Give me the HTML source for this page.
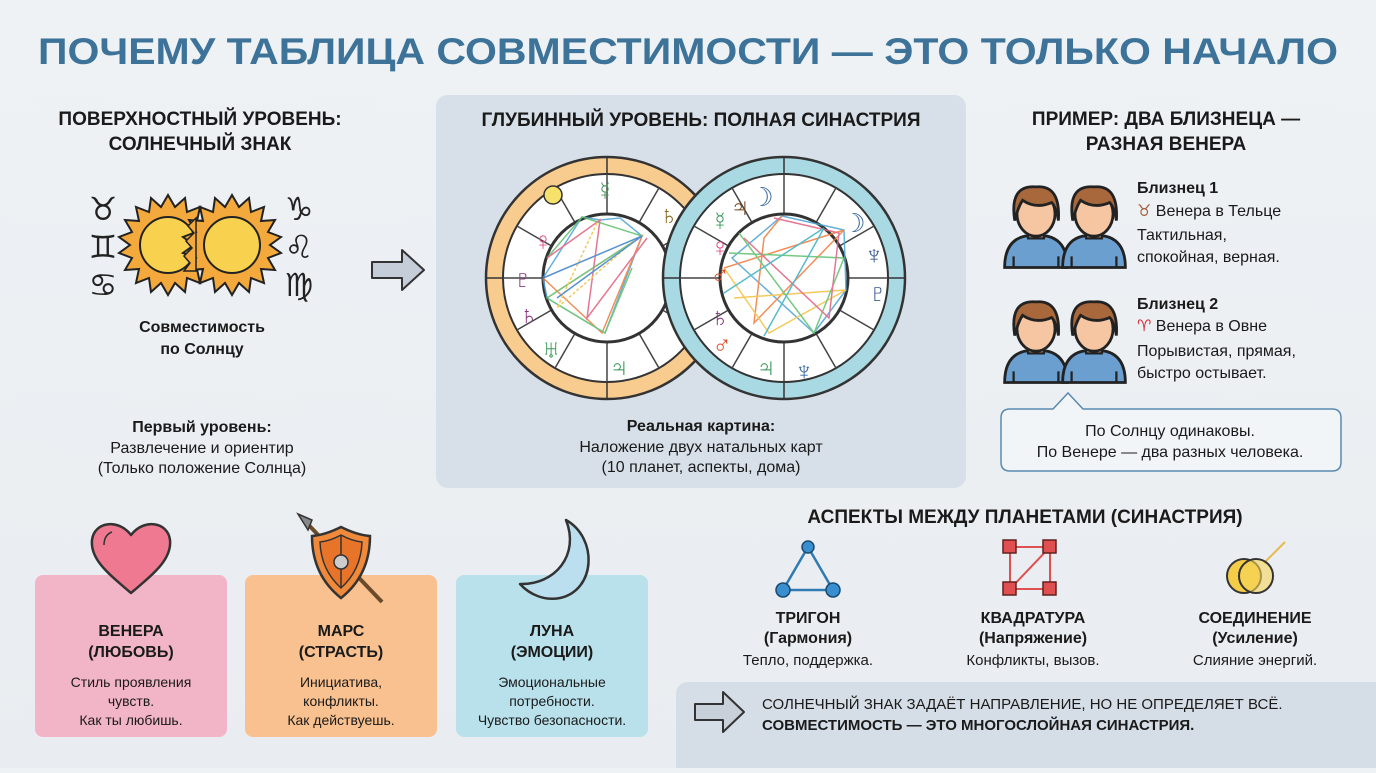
<!DOCTYPE html>
<html><head><meta charset="utf-8"><style>
html,body{margin:0;padding:0}
body{width:1376px;height:768px;overflow:hidden;background:linear-gradient(180deg,#eef2f5,#e9edf1);font-family:"Liberation Sans","Noto Sans CJK SC",sans-serif}
svg text{font-family:"Liberation Sans","DejaVu Sans",sans-serif}
</style></head><body>
<svg width="1376" height="768" viewBox="0 0 1376 768" xmlns="http://www.w3.org/2000/svg">
<defs>
<g id="person">
 <path d="M-28,46 Q-28,22 -10,18 L10,18 Q28,22 28,46 Z" fill="#6a9fd0" stroke="#222" stroke-width="2.5"/>
 <path d="M-20,46 v-10 M20,46 v-10" stroke="#222" stroke-width="2"/>
 <path d="M-7,10 v10 h14 v-10" fill="#f4c39e" stroke="#222" stroke-width="2"/>
 <ellipse cx="0" cy="-2" rx="17" ry="20" fill="#f6c6a2" stroke="#222" stroke-width="2.5"/>
 <path d="M-19,4 Q-24,-28 0,-26 Q22,-28 20,4 Q18,-8 14,-12 Q0,-6 -12,-14 Q-16,-8 -19,4 Z" fill="#a8683c" stroke="#222" stroke-width="2.5"/>
</g>
<g id="sun">
 <polygon points="0,-50 7,-38 17,-47 19,-33 32,-38 29,-24 43,-25 36,-13 49,-8 38,0 49,8 36,13 43,25 29,24 32,38 19,33 17,47 7,38 0,50 -7,38 -17,47 -19,33 -32,38 -29,24 -43,25 -36,13 -49,8 -38,0 -49,-8 -36,-13 -43,-25 -29,-24 -32,-38 -19,-33 -17,-47 -7,-38" fill="#f4a93c" stroke="#222" stroke-width="2"/>
 <circle r="28" fill="#f8d24e" stroke="#222" stroke-width="2"/>
</g>
<g id="houses" stroke="#444" stroke-width="1.5">
 <line x1="0" y1="-64" x2="0" y2="-104"/>
 <line x1="0" y1="-64" x2="0" y2="-104" transform="rotate(30)"/>
 <line x1="0" y1="-64" x2="0" y2="-104" transform="rotate(60)"/>
 <line x1="0" y1="-64" x2="0" y2="-104" transform="rotate(90)"/>
 <line x1="0" y1="-64" x2="0" y2="-104" transform="rotate(120)"/>
 <line x1="0" y1="-64" x2="0" y2="-104" transform="rotate(150)"/>
 <line x1="0" y1="-64" x2="0" y2="-104" transform="rotate(180)"/>
 <line x1="0" y1="-64" x2="0" y2="-104" transform="rotate(210)"/>
 <line x1="0" y1="-64" x2="0" y2="-104" transform="rotate(240)"/>
 <line x1="0" y1="-64" x2="0" y2="-104" transform="rotate(270)"/>
 <line x1="0" y1="-64" x2="0" y2="-104" transform="rotate(300)"/>
 <line x1="0" y1="-64" x2="0" y2="-104" transform="rotate(330)"/>
</g>
</defs>

<text x="688" y="64" text-anchor="middle" font-size="37" font-weight="bold" fill="#3d7399" textLength="1300" lengthAdjust="spacingAndGlyphs">ПОЧЕМУ ТАБЛИЦА СОВМЕСТИМОСТИ — ЭТО ТОЛЬКО НАЧАЛО</text>

<g font-size="19" font-weight="bold" fill="#1a1a1a" text-anchor="middle">
 <text x="200" y="125">ПОВЕРХНОСТНЫЙ УРОВЕНЬ:</text>
 <text x="200" y="150">СОЛНЕЧНЫЙ ЗНАК</text>
</g>
<g font-size="32" fill="#222" text-anchor="middle" font-family="DejaVu Sans">
 <text x="103" y="220">♉</text><text x="103" y="258">♊</text><text x="103" y="296">♋</text>
 <text x="299" y="220">♑</text><text x="299" y="258">♌</text><text x="299" y="296">♍</text>
</g>
<use href="#sun" x="168" y="245"/>
<use href="#sun" x="232" y="245"/>
<path d="M196,218 l-8,8 l6,7 l-8,8 l6,7 l-8,8 l6,7 l-6,8 l12,0 l0,-53 z" fill="#f4a93c" stroke="#222" stroke-width="1.5"/>
<g font-size="16" fill="#1a1a1a" text-anchor="middle">
 <text x="202" y="332" font-weight="bold">Совместимость</text>
 <text x="202" y="354" font-weight="bold">по Солнцу</text>
 <text x="202" y="432" font-weight="bold">Первый уровень:</text>
 <text x="202" y="453">Развлечение и ориентир</text>
 <text x="202" y="473">(Только положение Солнца)</text>
</g>
<path d="M372,262 h30 v-12 l22,20 l-22,20 v-12 h-30 z" fill="#c5ced8" stroke="#333" stroke-width="2" stroke-linejoin="round"/>

<rect x="436" y="95" width="530" height="393" rx="12" fill="#d7dfe8"/>
<text x="701" y="126" text-anchor="middle" font-size="19" font-weight="bold" fill="#1a1a1a">ГЛУБИННЫЙ УРОВЕНЬ: ПОЛНАЯ СИНАСТРИЯ</text>
<g transform="translate(607,278)">
 <circle r="121" fill="#f8cb8e" stroke="#333" stroke-width="2.5"/>
 <circle r="104" fill="#fff" stroke="#333" stroke-width="2"/>
 <use href="#houses"/>
 <g stroke="#333" stroke-width="1.5"><line x1="0" y1="-104" x2="0" y2="-121"/><line x1="0" y1="104" x2="0" y2="121"/><line x1="-104" y1="0" x2="-121" y2="0"/><line x1="104" y1="0" x2="121" y2="0" /></g>
 <circle r="64" fill="#fff" stroke="#333" stroke-width="3"/>
 <g fill="none" stroke-width="1.5" opacity="0.85">
  <polyline points="-64,0 -25,-61 -7,-58 13,-60 35,-42 -2,55 -60,20 -64,0" stroke="#4aa3d8"/>
  <polyline points="-64,0 -5,55 35,-42 -60,20" stroke="#f07a3a"/>
  <polyline points="-60,-20 -25,-61 35,-42 -60,20 -2,55 25,-10" stroke="#5cbf6a"/>
  <polyline points="-60,-20 -7,-58 -20,40 40,-40" stroke="#e06080"/>
  <polyline points="-10,-55 -50,30 30,-40" stroke="#f3c040" stroke-dasharray="3,2"/>
  <polyline points="-64,0 35,-42 -50,20" stroke="#3a80c8"/>
 </g>
 <circle cx="-54" cy="-83" r="9" fill="#f6e26a" stroke="#333" stroke-width="1.5"/>
 <g font-size="26" text-anchor="middle" font-family="DejaVu Sans">
  <text x="-64" y="-28" fill="#e0508a">♀</text>
  <text x="-84" y="10" fill="#8a3a80">♇</text>
  <text x="-78" y="46" fill="#8a3a80">♄</text>
  <text x="-56" y="80" fill="#3a9a5a">♅</text>
  <text x="12" y="98" fill="#3a9a5a">♃</text>
  <text x="-2" y="-78" fill="#4a9a5a">☿</text>
  <text x="62" y="-54" fill="#8a6a20">♄</text>
 </g>
</g>
<g transform="translate(784,278)">
 <circle r="121" fill="#a9d9e2" stroke="#333" stroke-width="2.5"/>
 <circle r="104" fill="#fff" stroke="#333" stroke-width="2"/>
 <use href="#houses"/>
 <g stroke="#333" stroke-width="1.5"><line x1="0" y1="-104" x2="0" y2="-121"/><line x1="0" y1="104" x2="0" y2="121"/><line x1="-104" y1="0" x2="-121" y2="0"/><line x1="104" y1="0" x2="121" y2="0"/></g>
 <circle r="64" fill="#fff" stroke="#333" stroke-width="3"/>
 <g fill="none" stroke-width="1.5" opacity="0.85">
  <polyline points="-2,-62 60,-48 62,12 30,55 -52,-20 -2,-62" stroke="#4aa3d8"/>
  <polyline points="-2,-62 -20,-40 -30,45 60,-48 -60,-10" stroke="#f07a3a"/>
  <polyline points="-60,-10 -15,55 62,12 -50,20" stroke="#f3c040"/>
  <polyline points="-45,-45 30,55 60,-20 -55,-25" stroke="#5cbf6a"/>
  <polyline points="-10,-60 55,-45 45,40 -40,-40" stroke="#e06080"/>
  <polyline points="-60,15 40,-50 -20,58" stroke="#3ab0c0"/>
 </g>
 <g font-size="26" text-anchor="middle" font-family="DejaVu Sans">
  <text x="-22" y="-72" fill="#3a6aa0">☽</text>
  <text x="70" y="-46" fill="#3a6aa0">☽</text>
  <text x="-44" y="-62" fill="#7a4a20">♃</text>
  <text x="-64" y="-48" fill="#3a9a5a">☿</text>
  <text x="-64" y="-22" fill="#e0508a">♀</text>
  <text x="-64" y="6" fill="#e0502a">♂</text>
  <text x="-64" y="48" fill="#8a3a80">♄</text>
  <text x="-62" y="76" fill="#e0502a">♂</text>
  <text x="-18" y="98" fill="#3a9a5a">♃</text>
  <text x="20" y="102" fill="#3a6aa0">♆</text>
  <text x="90" y="-14" fill="#3a5a90">♆</text>
  <text x="94" y="24" fill="#3a5a90">♇</text>
 </g>
</g>
<g font-size="16" fill="#1a1a1a" text-anchor="middle">
 <text x="701" y="431" font-weight="bold">Реальная картина:</text>
 <text x="701" y="452">Наложение двух натальных карт</text>
 <text x="701" y="472">(10 планет, аспекты, дома)</text>
</g>

<g font-size="19" font-weight="bold" fill="#1a1a1a" text-anchor="middle">
 <text x="1166" y="125">ПРИМЕР: ДВА БЛИЗНЕЦА —</text>
 <text x="1166" y="150">РАЗНАЯ ВЕНЕРА</text>
</g>
<g transform="translate(1036,216) scale(1.12)"><use href="#person"/></g>
<g transform="translate(1094,216) scale(1.12)"><use href="#person"/></g>
<g transform="translate(1036,331) scale(1.12)"><use href="#person"/></g>
<g transform="translate(1094,331) scale(1.12)"><use href="#person"/></g>
<g font-size="16" fill="#1a1a1a">
 <text x="1137" y="193" font-weight="bold">Близнец 1</text>
 <text x="1137" y="216"><tspan fill="#a0603c">♉ </tspan>Венера в Тельце</text>
 <text x="1137" y="240">Тактильная,</text>
 <text x="1137" y="262">спокойная, верная.</text>
 <text x="1137" y="309" font-weight="bold">Близнец 2</text>
 <text x="1137" y="331"><tspan fill="#d03040">♈ </tspan>Венера в Овне</text>
 <text x="1137" y="356">Порывистая, прямая,</text>
 <text x="1137" y="378">быстро остывает.</text>
</g>
<path d="M1010,409 H1053 L1068,393 L1083,409 H1332 Q1341,409 1341,418 V462 Q1341,471 1332,471 H1010 Q1001,471 1001,462 V418 Q1001,409 1010,409 Z" fill="#f2f5f8" stroke="#5a8ab0" stroke-width="1.5"/>
<g font-size="16" fill="#1a1a1a" text-anchor="middle">
 <text x="1170" y="436">По Солнцу одинаковы.</text>
 <text x="1170" y="457">По Венере — два разных человека.</text>
</g>

<rect x="35" y="575" width="192" height="162" rx="8" fill="#f2b4c7"/>
<rect x="245" y="575" width="192" height="162" rx="8" fill="#f9c18f"/>
<rect x="456" y="575" width="192" height="162" rx="8" fill="#b9e1eb"/>
<path d="M131,593 C110,575 90,560 92,540 C94,522 118,518 131,535 C144,518 168,522 170,540 C172,560 152,575 131,593 Z" fill="#ef7990" stroke="#333" stroke-width="2.5" stroke-linejoin="round"/>
<path d="M104,545 q0,-10 8,-13" stroke="#333" stroke-width="1.5" fill="none"/>
<line x1="302" y1="518" x2="382" y2="602" stroke="#6b4a2a" stroke-width="4"/>
<polygon points="298,514 312,520 308,530" fill="#888" stroke="#333" stroke-width="1.5"/>
<path d="M341,527 Q325,535 312,536 Q312,575 341,598 Q370,575 370,536 Q357,535 341,527 Z" fill="#f08a3a" stroke="#333" stroke-width="2.5"/>
<path d="M341,535 Q330,541 320,542 Q321,570 341,588 Q361,570 362,542 Q352,541 341,535 Z" fill="#e8742a" stroke="#333" stroke-width="1.5"/>
<line x1="341" y1="535" x2="341" y2="588" stroke="#333" stroke-width="1.5"/>
<circle cx="341" cy="562" r="7" fill="#ccc" stroke="#333" stroke-width="1.5"/>
<path d="M566,520 C598,538 596,590 560,598 C545,601 530,595 520,584 C555,585 580,555 566,520 Z" fill="#bcdff0" stroke="#333" stroke-width="2.5" stroke-linejoin="round"/>
<g text-anchor="middle" fill="#1a1a1a">
 <g font-size="16" font-weight="bold">
  <text x="131" y="636">ВЕНЕРА</text><text x="131" y="657">(ЛЮБОВЬ)</text>
  <text x="341" y="636">МАРС</text><text x="341" y="657">(СТРАСТЬ)</text>
  <text x="552" y="636">ЛУНА</text><text x="552" y="657">(ЭМОЦИИ)</text>
 </g>
 <g font-size="14">
  <text x="131" y="687">Стиль проявления</text><text x="131" y="706">чувств.</text><text x="131" y="725">Как ты любишь.</text>
  <text x="341" y="687">Инициатива,</text><text x="341" y="706">конфликты.</text><text x="341" y="725">Как действуешь.</text>
  <text x="552" y="687">Эмоциональные</text><text x="552" y="706">потребности.</text><text x="552" y="725">Чувство безопасности.</text>
 </g>
</g>

<text x="1025" y="523" text-anchor="middle" font-size="19" font-weight="bold" fill="#1a1a1a">АСПЕКТЫ МЕЖДУ ПЛАНЕТАМИ (СИНАСТРИЯ)</text>
<polygon points="808,547 783,590 833,590" fill="none" stroke="#2f7ab0" stroke-width="2.5"/>
<circle cx="808" cy="547" r="6" fill="#3a8fd0" stroke="#1a4a70" stroke-width="1.5"/>
<circle cx="783" cy="590" r="7" fill="#3a8fd0" stroke="#1a4a70" stroke-width="1.5"/>
<circle cx="833" cy="590" r="7" fill="#3a8fd0" stroke="#1a4a70" stroke-width="1.5"/>
<g stroke="#e05050" stroke-width="2" fill="none"><rect x="1010" y="547" width="40" height="42"/><line x1="1010" y1="589" x2="1050" y2="547"/></g>
<g fill="#e05050" stroke="#602020" stroke-width="1.5">
 <rect x="1003" y="540" width="13" height="13"/><rect x="1043" y="540" width="13" height="13"/>
 <rect x="1003" y="582" width="13" height="13"/><rect x="1043" y="582" width="13" height="13"/>
</g>
<line x1="1264" y1="563" x2="1285" y2="542" stroke="#e8b84a" stroke-width="2"/>
<circle cx="1244" cy="576" r="17" fill="#f4cc48" stroke="#333" stroke-width="2"/>
<circle cx="1256" cy="576" r="17" fill="#f6d65a" fill-opacity="0.6" stroke="#333" stroke-width="2"/>
<g text-anchor="middle" fill="#1a1a1a">
 <g font-size="16" font-weight="bold">
  <text x="808" y="623">ТРИГОН</text><text x="808" y="643">(Гармония)</text>
  <text x="1033" y="623">КВАДРАТУРА</text><text x="1033" y="643">(Напряжение)</text>
  <text x="1255" y="623">СОЕДИНЕНИЕ</text><text x="1255" y="643">(Усиление)</text>
 </g>
 <g font-size="15">
  <text x="808" y="665">Тепло, поддержка.</text>
  <text x="1033" y="665">Конфликты, вызов.</text>
  <text x="1255" y="665">Слияние энергий.</text>
 </g>
</g>

<rect x="676" y="682" width="710" height="100" rx="12" fill="#d5dde6"/>
<path d="M695,704 h28 v-12 l21,20 l-21,20 v-12 h-28 z" fill="#c8d0da" stroke="#333" stroke-width="2" stroke-linejoin="round"/>
<g font-size="15" fill="#1a1a1a">
 <text x="762" y="709">СОЛНЕЧНЫЙ ЗНАК ЗАДАЁТ НАПРАВЛЕНИЕ, НО НЕ ОПРЕДЕЛЯЕТ ВСЁ.</text>
 <text x="762" y="730" font-weight="bold">СОВМЕСТИМОСТЬ — ЭТО МНОГОСЛОЙНАЯ СИНАСТРИЯ.</text>
</g>
</svg>
</body></html>
